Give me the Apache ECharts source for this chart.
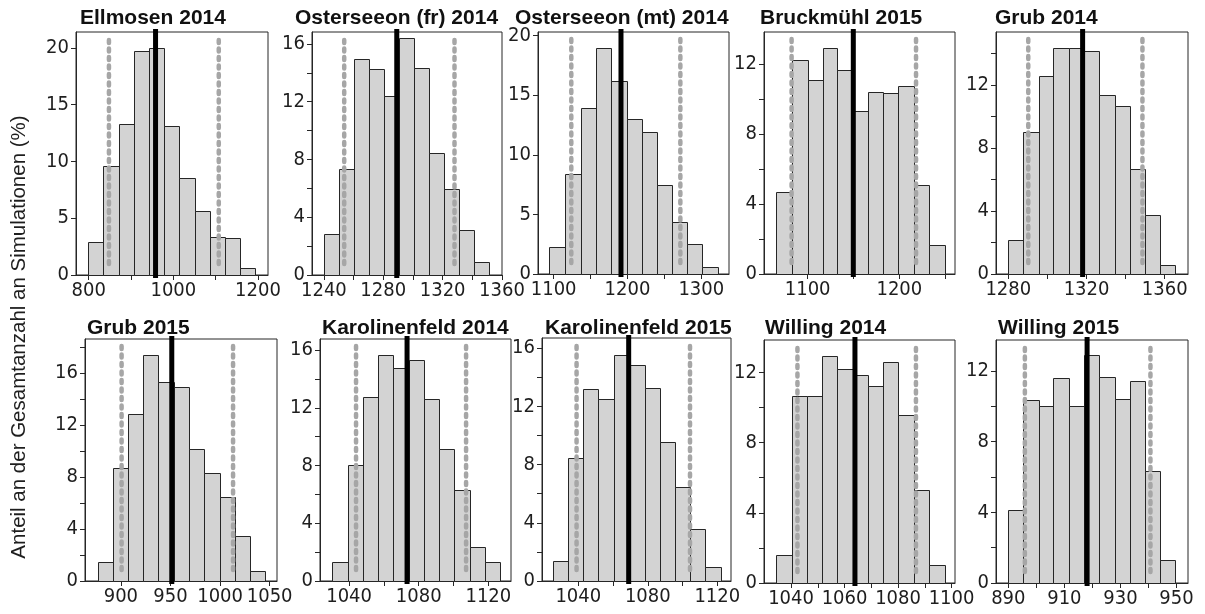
<!DOCTYPE html>
<html><head><meta charset="utf-8">
<script src="https://cdn.jsdelivr.net/npm/echarts@6.0.0/dist/echarts.min.js"></script>
<style>html,body{margin:0;padding:0;background:#fff}#c{width:1205px;height:614px}</style>
</head><body><div id="c"></div>
<script>
// ---------------- DATA ----------------
const panelTitles = ['Ellmosen 2014','Osterseeon (fr) 2014','Osterseeon (mt) 2014','Bruckmühl 2015','Grub 2014',
                     'Grub 2015','Karolinenfeld 2014','Karolinenfeld 2015','Willing 2014','Willing 2015'];
const yAxisTitle = 'Anteil an der Gesamtanzahl an Simulationen (%)';

// bin edges (x) and share of simulations (%) per bin
const edgesEllmosen2014 = [797.6, 834.6, 870.7, 906.1, 943.0, 977.6, 1014.5, 1050.7, 1086.8, 1122.2, 1158.3, 1193.7];
const pctEllmosen2014   = [2.87, 9.56, 13.3, 19.7, 20.0, 13.1, 8.53, 5.66, 3.37, 3.26, 0.59];
const edgesOstFr2014 = [1240.0, 1249.9, 1260.1, 1270.3, 1280.7, 1290.6, 1300.8, 1310.5, 1320.7, 1330.8, 1341.0, 1351.2];
const pctOstFr2014   = [2.87, 7.32, 14.96, 14.24, 12.43, 16.39, 14.33, 8.43, 5.93, 3.1, 0.88];
const edgesOstMt2014 = [1093.7, 1115.3, 1137.0, 1157.3, 1178.1, 1198.9, 1219.6, 1240.0, 1260.3, 1281.0, 1301.4, 1322.6];
const pctOstMt2014   = [2.24, 8.35, 13.92, 18.96, 16.2, 13.0, 11.88, 7.48, 4.34, 2.52, 0.62];
const edgesBruck2015 = [1065.1, 1082.5, 1100.0, 1116.4, 1132.4, 1149.1, 1165.5, 1182.5, 1198.9, 1215.6, 1232.4, 1249.5];
const pctBruck2015   = [4.71, 12.21, 11.1, 12.92, 11.64, 9.29, 10.4, 10.34, 10.73, 5.1, 1.66];
const edgesGrub2014 = [1279.7, 1287.7, 1295.5, 1303.1, 1311.1, 1318.6, 1326.6, 1334.5, 1342.3, 1350.0, 1357.8, 1365.4];
const pctGrub2014   = [2.18, 9.0, 12.56, 14.36, 14.36, 14.2, 11.36, 10.7, 6.67, 3.73, 0.57];
const edgesGrub2015 = [876.5, 891.6, 907.4, 922.5, 937.9, 953.4, 968.8, 984.2, 999.7, 1014.8, 1030.2, 1045.6];
const pctGrub2015   = [1.46, 8.68, 12.89, 17.43, 15.33, 14.97, 10.19, 8.34, 6.5, 3.47, 0.77];
const edgesKarol2014 = [1030.4, 1039.4, 1048.2, 1056.7, 1065.5, 1074.3, 1083.1, 1091.9, 1100.5, 1109.3, 1118.1, 1126.7];
const pctKarol2014   = [1.32, 8.06, 12.77, 15.68, 14.78, 15.33, 12.6, 9.14, 6.3, 2.33, 1.32];
const edgesKarol2015 = [1025.2, 1033.9, 1042.9, 1051.5, 1060.5, 1069.4, 1078.2, 1086.8, 1095.5, 1104.3, 1113.1, 1122.0];
const pctKarol2015   = [1.4, 8.44, 13.19, 12.52, 15.55, 14.84, 13.28, 9.54, 6.49, 3.56, 0.94];
const edgesWill2014 = [1034.3, 1040.2, 1046.1, 1051.7, 1057.3, 1063.0, 1068.6, 1074.5, 1080.1, 1085.8, 1091.4, 1097.4];
const pctWill2014   = [1.61, 10.63, 10.63, 12.94, 12.18, 11.84, 11.25, 12.62, 9.58, 5.28, 1.0];
const edgesWill2015 = [889.8, 895.3, 900.8, 906.1, 911.7, 916.9, 922.5, 928.0, 933.4, 938.8, 944.2, 949.5];
const pctWill2015   = [4.12, 10.34, 10.0, 11.63, 10.0, 12.89, 11.66, 10.4, 11.44, 6.33, 1.29];

// vertical reference lines (black = observed, grey dotted = interval bounds)
const observedLine = [958.0, 1289.1, 1191.2, 1149.8, 1318.0, 951.3, 1073.3, 1069.0, 1063.9, 918.1];
const lowerBound   = [847.9, 1253.7, 1123.9, 1082.5, 1290.2, 900.7, 1044.0, 1039.0, 1042.4, 895.9];
const upperBound   = [1107.3, 1328.0, 1271.6, 1218.2, 1348.6, 1013.1, 1107.2, 1104.3, 1086.7, 940.7];

// axis domains
const xMin = [770.1, 1232.0, 1078.8, 1052.4, 1273.7, 863.8, 1023.3, 1019.1, 1029.9, 885.6];
const xMax = [1223.6, 1360.0, 1337.5, 1260.7, 1371.9, 1057.4, 1133.0, 1127.9, 1101.3, 954.1];
const yMax = [21.4, 16.83, 20.3, 13.83, 15.38, 18.64, 16.77, 16.7, 13.85, 13.76];

// tick labels and tick marks
const xLabels = [[800,1000,1200],[1240,1280,1320,1360],[1100,1200,1300],[1100,1200],[1280,1320,1360],
                 [900,950,1000,1050],[1040,1080,1120],[1040,1080,1120],[1040,1060,1080,1100],[890,910,930,950]];
const xTicks  = [[800,900,1000,1100,1200],[1240,1260,1280,1300,1320,1340,1360],[1100,1150,1200,1250,1300],
                 [1100,1150,1200,1250],[1280,1300,1320,1340,1360],[900,950,1000,1050],
                 [1040,1060,1080,1100,1120],[1040,1060,1080,1100,1120],
                 [1040,1050,1060,1070,1080,1090,1100],[890,900,910,920,930,940,950]];
const yLabels = [[0,5,10,15,20],[0,4,8,12,16],[0,5,10,15,20],[0,4,8,12],[0,4,8,12],
                 [0,4,8,12,16],[0,4,8,12,16],[0,4,8,12,16],[0,4,8,12],[0,4,8,12]];
const yTicks  = [[0,5,10,15,20],[0,2,4,6,8,10,12,14,16],[0,5,10,15,20],[0,2,4,6,8,10,12],
                 [0,2,4,6,8,10,12,14],[0,2,4,6,8,10,12,14,16,18],[0,2,4,6,8,10,12,14,16],
                 [0,2,4,6,8,10,12,14,16],[0,2,4,6,8,10,12],[0,2,4,6,8,10,12]];

const allEdges = [edgesEllmosen2014, edgesOstFr2014, edgesOstMt2014, edgesBruck2015, edgesGrub2014,
                  edgesGrub2015, edgesKarol2014, edgesKarol2015, edgesWill2014, edgesWill2015];
const allPct = [pctEllmosen2014, pctOstFr2014, pctOstMt2014, pctBruck2015, pctGrub2014,
                pctGrub2015, pctKarol2014, pctKarol2015, pctWill2014, pctWill2015];

// ---------------- LAYOUT ----------------
const gridBoxes = [
  {left:76, top:32, width:192, height:243},
  {left:312, top:32, width:190, height:243},
  {left:538, top:32, width:191, height:242},
  {left:764, top:32, width:191, height:242},
  {left:996, top:32, width:192, height:242},
  {left:85, top:339, width:192, height:242},
  {left:320, top:339, width:191, height:242},
  {left:542, top:338, width:189, height:243},
  {left:764, top:340, width:191, height:243},
  {left:996, top:340, width:192, height:243}
];
const titlePos = [
  {left:80, top:8},{left:295, top:8},{left:515, top:8},{left:760, top:8},{left:995, top:8},
  {left:87, top:318},{left:322, top:318},{left:545, top:318},{left:765, top:318},{left:998, top:318}
];

const FONT = '"Liberation Sans", Arial, sans-serif';
const TICKFONT = '"Liberation Sans Narrow", "DejaVu Sans Condensed", "Liberation Sans", Arial, sans-serif';
const AX = '#262626';
const plain = v => String(v);

const grids = [], xAxes = [], yAxes = [], series = [], titles = [];
for (let i = 0; i < 10; i++) {
  grids.push(Object.assign({show:true, borderColor:AX, borderWidth:1, backgroundColor:'transparent',
                            containLabel:false, outerBoundsMode:'none'}, gridBoxes[i]));
  titles.push(Object.assign({text:panelTitles[i], padding:0,
    textStyle:{fontFamily:FONT, fontSize:21, fontWeight:'bold', color:'#111'}}, titlePos[i]));
  xAxes.push({type:'value', gridIndex:i, min:xMin[i], max:xMax[i],
    axisLine:{show:true, onZero:false, lineStyle:{color:AX, width:1}},
    axisTick:{show:true, length:5, customValues:xTicks[i], lineStyle:{color:AX}},
    axisLabel:{customValues:xLabels[i], formatter:plain, margin:6, fontFamily:TICKFONT, fontSize:20,
               color:'#1e1e1e', hideOverlap:false, showMinLabel:true, showMaxLabel:true},
    splitLine:{show:false}});
  yAxes.push({type:'value', gridIndex:i, min:0, max:yMax[i],
    axisLine:{show:true, lineStyle:{color:AX, width:1}},
    axisTick:{show:true, length:5, customValues:yTicks[i], lineStyle:{color:AX}},
    axisLabel:{customValues:yLabels[i], formatter:plain, margin:7, fontFamily:TICKFONT, fontSize:20, color:'#1e1e1e'},
    splitLine:{show:false}});
  const edges = allEdges[i], pct = allPct[i];
  const bins = pct.map((v, k) => [edges[k], edges[k+1], v]);
  series.push({
    type:'custom', xAxisIndex:i, yAxisIndex:i, data:bins, z:2,
    encode:{x:[0,1], y:2},
    renderItem:function(params, api){
      const a = api.coord([api.value(0), 0]);
      const b = api.coord([api.value(1), api.value(2)]);
      const x0 = Math.round(a[0]) + 0.5, x1 = Math.round(b[0]) + 0.5;
      const yb = Math.round(a[1]) + 0.5, yt = Math.round(b[1]) + 0.5;
      return {type:'rect', shape:{x:x0, y:yt, width:x1-x0, height:yb-yt},
              style:{fill:'#d3d3d3', stroke:'#262626', lineWidth:1}};
    }
  });
  const lines = [[lowerBound[i], 1], [upperBound[i], 1], [observedLine[i], 0]];
  series.push({
    type:'custom', xAxisIndex:i, yAxisIndex:i, data:lines, z:5, silent:true,
    encode:{x:0},
    renderItem:function(params, api){
      const cs = params.coordSys;
      const x = api.coord([api.value(0), 0])[0];
      if (api.value(1) === 0) {
        return {type:'line', shape:{x1:x, y1:cs.y + cs.height + 3, x2:x, y2:cs.y - 3},
                style:{stroke:'#000', lineWidth:5}};
      }
      return {type:'line', shape:{x1:x, y1:cs.y + cs.height - 11, x2:x, y2:cs.y + 7},
              style:{stroke:'#a6a6a6', lineWidth:4.5, lineDash:[3,5.5], lineCap:'round'}};
    }
  });
}

const chart = echarts.init(document.getElementById('c'), null, {renderer:'canvas'});
chart.setOption({
  animation:false,
  backgroundColor:'#fff',
  title:titles,
  grid:grids,
  xAxis:xAxes,
  yAxis:yAxes,
  series:series,
  graphic:[{type:'text', x:19, y:337, rotation:Math.PI/2,
    style:{text:yAxisTitle, fontFamily:FONT, fontSize:20.5, fill:'#1e1e1e', textAlign:'center', textVerticalAlign:'middle'}}]
});
</script>
</body></html>
